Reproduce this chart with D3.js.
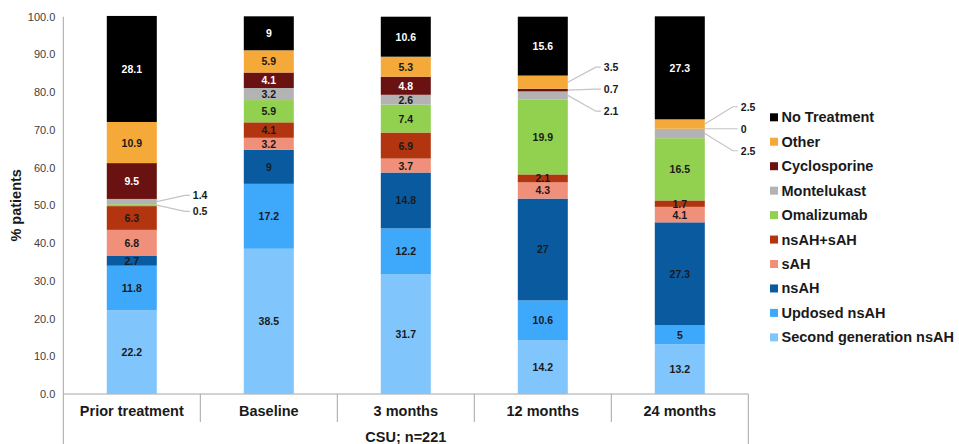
<!DOCTYPE html>
<html lang="en">
<head>
    <meta charset="UTF-8">
    <title>CSU treatment</title>
    <script src="https://d3js.org/d3.v7.min.js"></script>
    <style>
        html, body {
            margin: 0;
            padding: 0;
            background: white;
            font-family: "Liberation Sans", Arial, sans-serif;
        }
    </style>
</head>
<body>
<script>
    // categories along the x axis
    const categories = ["Prior treatment", "Baseline", "3 months", "12 months", "24 months"];

    // series, stacked from the bottom up
    const series = ["Second generation nsAH", "Updosed nsAH", "nsAH", "sAH", "nsAH+sAH",
        "Omalizumab", "Montelukast", "Cyclosporine", "Other", "No Treatment"];

    const colors = ["#80c5fc", "#3ea8fa", "#0a5a9f", "#f0907b", "#b2350f",
        "#92d050", "#b3b3b3", "#6a1212", "#f4a938", "#000000"];

    // values per series, one per category
    const secondGen  = [22.2, 38.5, 31.7, 14.2, 13.2];
    const updosed    = [11.8, 17.2, 12.2, 10.6, 5];
    const nsAH       = [2.7, 9, 14.8, 27, 27.3];
    const sAH        = [6.8, 3.2, 3.7, 4.3, 4.1];
    const nsAHsAH    = [6.3, 4.1, 6.9, 2.1, 1.7];
    const omalizumab = [0.5, 5.9, 7.4, 19.9, 16.5];
    const montelukast = [1.4, 3.2, 2.6, 2.1, 2.5];
    const cyclosporine = [9.5, 4.1, 4.8, 0.7, 0];
    const other      = [10.9, 5.9, 5.3, 3.5, 2.5];
    const noTreatment = [28.1, 9, 10.6, 15.6, 27.3];

    const seriesValues = [secondGen, updosed, nsAH, sAH, nsAHsAH,
        omalizumab, montelukast, cyclosporine, other, noTreatment];

    // segments labelled outside the bar with a leader line
    const callouts = [
        {cat: "Prior treatment", keys: ["Montelukast", "Omalizumab"]},
        {cat: "12 months", keys: ["Other", "Cyclosporine", "Montelukast"]},
        {cat: "24 months", keys: ["Other", "Cyclosporine", "Montelukast"]}
    ];

    const yTicks = d3.range(0, 101, 10);
    const xTitle = "CSU; n=221";
    const yTitle = "% patients";

    const width = 959, height = 444;
    const margin = {left: 63.3, right: 748.3, top: 16.7, bottom: 394};

    const rows = categories.map((c, i) => {
        const r = {cat: c};
        series.forEach((s, j) => r[s] = seriesValues[j][i]);
        return r;
    });
    const stacked = d3.stack().keys(series)(rows);

    const x = d3.scaleBand().domain(categories).range([margin.left, margin.right]);
    const y = d3.scaleLinear().domain([0, 100]).range([margin.bottom, margin.top]);
    const color = d3.scaleOrdinal().domain(series).range(colors);
    const barW = x.bandwidth() * 0.365;

    const svg = d3.select("body").append("svg")
        .attr("width", width)
        .attr("height", height)
        .style("display", "block");

    const axisColor = "#a6a6a6";

    // y axis
    const yAxis = svg.append("g")
        .attr("transform", `translate(${margin.left},0)`)
        .call(d3.axisLeft(y).tickValues(yTicks).tickFormat(d3.format(".1f")).tickSize(0).tickPadding(8));
    yAxis.select(".domain").remove();
    yAxis.selectAll("text")
        .style("font-size", "11px")
        .style("font-family", "Liberation Sans, Arial, sans-serif")
        .attr("fill", "#404040");

    svg.append("line")
        .attr("x1", margin.left).attr("x2", margin.left)
        .attr("y1", margin.top).attr("y2", height)
        .attr("stroke", axisColor);

    svg.append("text")
        .attr("transform", `translate(17,${(margin.top + margin.bottom) / 2}) rotate(-90)`)
        .attr("text-anchor", "middle")
        .attr("dominant-baseline", "middle")
        .style("font-size", "14.5px")
        .style("font-weight", "bold")
        .attr("fill", "#1a1a1a")
        .text(yTitle);

    // x axis with category boxes
    svg.append("line")
        .attr("x1", margin.left).attr("x2", margin.right)
        .attr("y1", margin.bottom).attr("y2", margin.bottom)
        .attr("stroke", axisColor);

    svg.append("g")
        .selectAll("line")
        .data(categories.slice(1))
        .join("line")
        .attr("x1", d => x(d)).attr("x2", d => x(d))
        .attr("y1", margin.bottom).attr("y2", 422)
        .attr("stroke", axisColor);

    svg.append("line")
        .attr("x1", margin.right).attr("x2", margin.right)
        .attr("y1", margin.bottom).attr("y2", height)
        .attr("stroke", axisColor);

    svg.append("g")
        .selectAll("text")
        .data(categories)
        .join("text")
        .attr("x", d => x(d) + x.bandwidth() / 2)
        .attr("y", 412)
        .attr("text-anchor", "middle")
        .attr("dominant-baseline", "middle")
        .style("font-size", "14.5px")
        .style("font-weight", "bold")
        .attr("fill", "#1a1a1a")
        .text(d => d);

    svg.append("text")
        .attr("x", (margin.left + margin.right) / 2)
        .attr("y", 438)
        .attr("text-anchor", "middle")
        .attr("dominant-baseline", "middle")
        .style("font-size", "14.5px")
        .style("font-weight", "bold")
        .attr("fill", "#1a1a1a")
        .text(xTitle);

    // bars
    const barX = cat => x(cat) + (x.bandwidth() - barW) / 2;

    const layer = svg.append("g")
        .selectAll("g")
        .data(stacked)
        .join("g")
        .attr("fill", d => color(d.key));

    layer.selectAll("rect")
        .data(d => d.map(p => ({key: d.key, cat: p.data.cat, y0: p[0], y1: p[1]})))
        .join("rect")
        .attr("x", d => barX(d.cat))
        .attr("width", barW)
        .attr("y", d => y(d.y1))
        .attr("height", d => y(d.y0) - y(d.y1));

    // labels inside segments
    const isCallout = d => callouts.some(c => c.cat === d.cat && c.keys.includes(d.key));
    const inside = stacked.flatMap(s => s.map(p => ({key: s.key, cat: p.data.cat, y0: p[0], y1: p[1], v: p.data[s.key]})))
        .filter(d => !isCallout(d));

    svg.append("g")
        .selectAll("text")
        .data(inside)
        .join("text")
        .attr("x", d => barX(d.cat) + barW / 2)
        .attr("y", d => y((d.y0 + d.y1) / 2))
        .attr("text-anchor", "middle")
        .attr("dominant-baseline", "central")
        .style("font-size", "10.5px")
        .style("font-weight", "bold")
        .attr("fill", d => (d.key === "No Treatment" || d.key === "Cyclosporine") ? "white" : "#1a1a1a")
        .text(d => d.v);

    // callout labels with leader lines
    const calloutG = svg.append("g");
    callouts.forEach(c => {
        const ci = categories.indexOf(c.cat);
        const segs = c.keys.map(k => {
            const p = stacked[series.indexOf(k)][ci];
            return {key: k, mid: y((p[0] + p[1]) / 2), v: rows[ci][k]};
        });
        const gap = segs.length === 2 ? 16 : 22;
        const mean = d3.mean(segs, s => s.mid);
        const x0 = barX(c.cat) + barW;
        segs.forEach((s, i) => {
            const ly = mean + (i - (segs.length - 1) / 2) * gap;
            calloutG.append("polyline")
                .attr("points", `${x0},${s.mid} ${x0 + 28},${ly} ${x0 + 33},${ly}`)
                .attr("fill", "none")
                .attr("stroke", "#c4c4c4")
                .attr("stroke-width", 1.2);
            calloutG.append("text")
                .attr("x", x0 + 36)
                .attr("y", ly)
                .attr("dominant-baseline", "central")
                .style("font-size", "10.5px")
                .style("font-weight", "bold")
                .attr("fill", "#1a1a1a")
                .text(s.v);
        });
    });

    // legend, top entry is the top of the stack
    const legend = svg.append("g")
        .selectAll("g")
        .data(series.slice().reverse())
        .join("g")
        .attr("transform", (d, i) => `translate(770,${117.3 + i * 24.45})`);

    legend.append("rect")
        .attr("x", 0).attr("y", -4)
        .attr("width", 8).attr("height", 8)
        .attr("fill", d => color(d));

    legend.append("text")
        .attr("x", 11.5)
        .attr("y", 0)
        .attr("dominant-baseline", "central")
        .style("font-size", "14.5px")
        .style("font-weight", "bold")
        .attr("fill", "#1a1a1a")
        .text(d => d);
</script>
</body>
</html>
